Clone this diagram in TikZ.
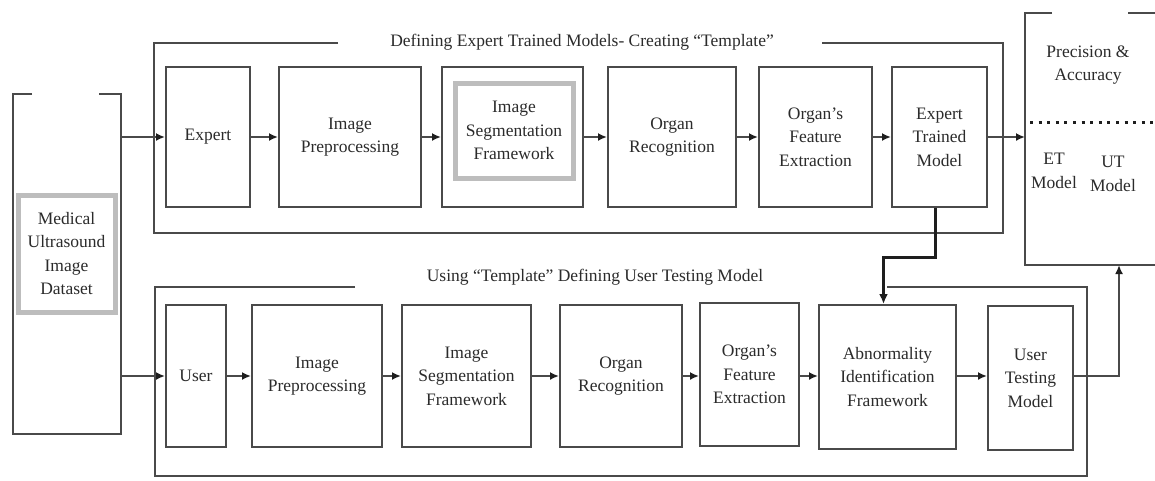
\documentclass[tikz,border=0pt]{standalone}
\usepackage{fontspec}
\setmainfont{Liberation Serif}
\usetikzlibrary{arrows.meta,calc}
\definecolor{ink}{HTML}{2B2B2B}
\definecolor{edge}{HTML}{4A4A4A}
\definecolor{halo}{HTML}{BDBDBD}
\definecolor{lead}{HTML}{1E1E1E}
\tikzset{
  txt/.style={align=center, text=ink, font=\fontsize{17.5}{23.5}\selectfont, inner sep=0pt},
  blk/.style={txt, draw=edge, line width=2pt},
  halobox/.style={txt, draw=halo, line width=5pt},
  frame/.style={draw=edge, line width=2pt},
  flow/.style={draw=edge, line width=2pt, -{Latex[length=9pt,width=8pt,color=lead]}},
  feed/.style={draw=lead, line width=3pt, -{Latex[length=10pt,width=9pt]}},
}
\begin{document}
\begin{tikzpicture}[x=1pt,y=-1pt]
\useasboundingbox (0,0) rectangle (1155,480);
\fill[white] (0,0) rectangle (1155,480);
\clip (0,0) rectangle (1155,480);

% dataset container
\draw[frame] (32,94) -- (13,94) -- (13,434) -- (121,434) -- (121,94) -- (99,94);
\node[halobox, minimum width=97pt, minimum height=117pt] (data) at (66.5,253.5)
  {Medical\\Ultrasound\\Image\\Dataset};
\coordinate (dsT) at (121,137);
\coordinate (dsB) at (121,376);

% upper frame: expert trained models
\draw[frame] (338,43) -- (154,43) -- (154,233) -- (1003,233) -- (1003,43) -- (822,43);
\node[txt] (ttop) at (582,42) {Defining Expert Trained Models- Creating “Template”};

\node[blk, minimum width=84pt,  minimum height=140pt] (expert) at (208,137)   {Expert};
\node[blk, minimum width=142pt, minimum height=140pt] (preA)   at (350,137)   {Image\\Preprocessing};
\node[blk, minimum width=141pt, minimum height=140pt] (segA)   at (512.5,137) {};
\node[halobox, minimum width=118pt, minimum height=95pt] (segAin) at (514,130.5)
  {Image\\Segmentation\\Framework};
\node[blk, minimum width=128pt, minimum height=140pt] (recA)   at (672,137)   {Organ\\Recognition};
\node[blk, minimum width=113pt, minimum height=140pt] (featA)  at (815.5,137) {Organ’s\\Feature\\Extraction};
\node[blk, minimum width=95pt,  minimum height=140pt] (etm)    at (939.5,137) {Expert\\Trained\\Model};

% lower frame: user testing model
\draw[frame] (355,287) -- (155,287) -- (155,476) -- (1087,476) -- (1087,287) -- (887,287);
\node[txt] (tbot) at (595,277) {Using “Template” Defining User Testing Model};

\node[blk, minimum width=60pt,  minimum height=142pt] (user)  at (196,376)   {User};
\node[blk, minimum width=130pt, minimum height=142pt] (preB)  at (317,376)   {Image\\Preprocessing};
\node[blk, minimum width=129pt, minimum height=142pt] (segB)  at (466.5,376) {Image\\Segmentation\\Framework};
\node[blk, minimum width=122pt, minimum height=142pt] (recB)  at (621,376)   {Organ\\Recognition};
\node[blk, minimum width=99pt,  minimum height=143pt] (featB) at (749.5,374.5) {Organ’s\\Feature\\Extraction};
\node[blk, minimum width=137pt, minimum height=144pt] (abn)   at (887.5,377) {Abnormality\\Identification\\Framework};
\node[blk, minimum width=85pt,  minimum height=144pt] (utm)   at (1030.5,378) {User\\Testing\\Model};

% evaluation box
\draw[frame] (1052,13) -- (1025,13) -- (1025,265) -- (1170,265);
\draw[frame] (1128,13) -- (1170,13);
\draw[draw=lead, line width=3pt, dash pattern=on 3pt off 5.6pt] (1030,122) -- (1160,122);
\node[txt] (prec) at (1088,65)  {Precision \&\\Accuracy};
\node[txt] (etl)  at (1054,171) {ET\\Model};
\node[txt] (utl)  at (1113,174) {UT\\Model};
\coordinate (evalL) at (1025,137);
\coordinate (evalB) at (1119,265);

% upper flow
\draw[flow] (dsT) -- (expert.west);
\draw[flow] (expert) -- (preA);
\draw[flow] (preA) -- (segA);
\draw[flow] (segA) -- (recA);
\draw[flow] (recA) -- (featA);
\draw[flow] (featA) -- (etm);
\draw[flow] (etm) -- (evalL);

% lower flow
\draw[flow] (dsB) -- (user.west);
\draw[flow] (user) -- (preB);
\draw[flow] (preB) -- (segB);
\draw[flow] (segB) -- (recB);
\draw[flow] (recB.east) -- (featB.west |- recB.east);
\draw[flow] (featB.east |- recB.east) -- (abn.west |- recB.east);
\draw[flow] (abn.east |- recB.east) -- (utm.west |- recB.east);
\draw[flow] (utm.east |- recB.east) -| (evalB);

% template hand-over
\draw[feed] ($(etm.south)+(-4,0)$) -- ++(0,49) -| ($(abn.north)+(-4,0)$);
\end{tikzpicture}
\end{document}
